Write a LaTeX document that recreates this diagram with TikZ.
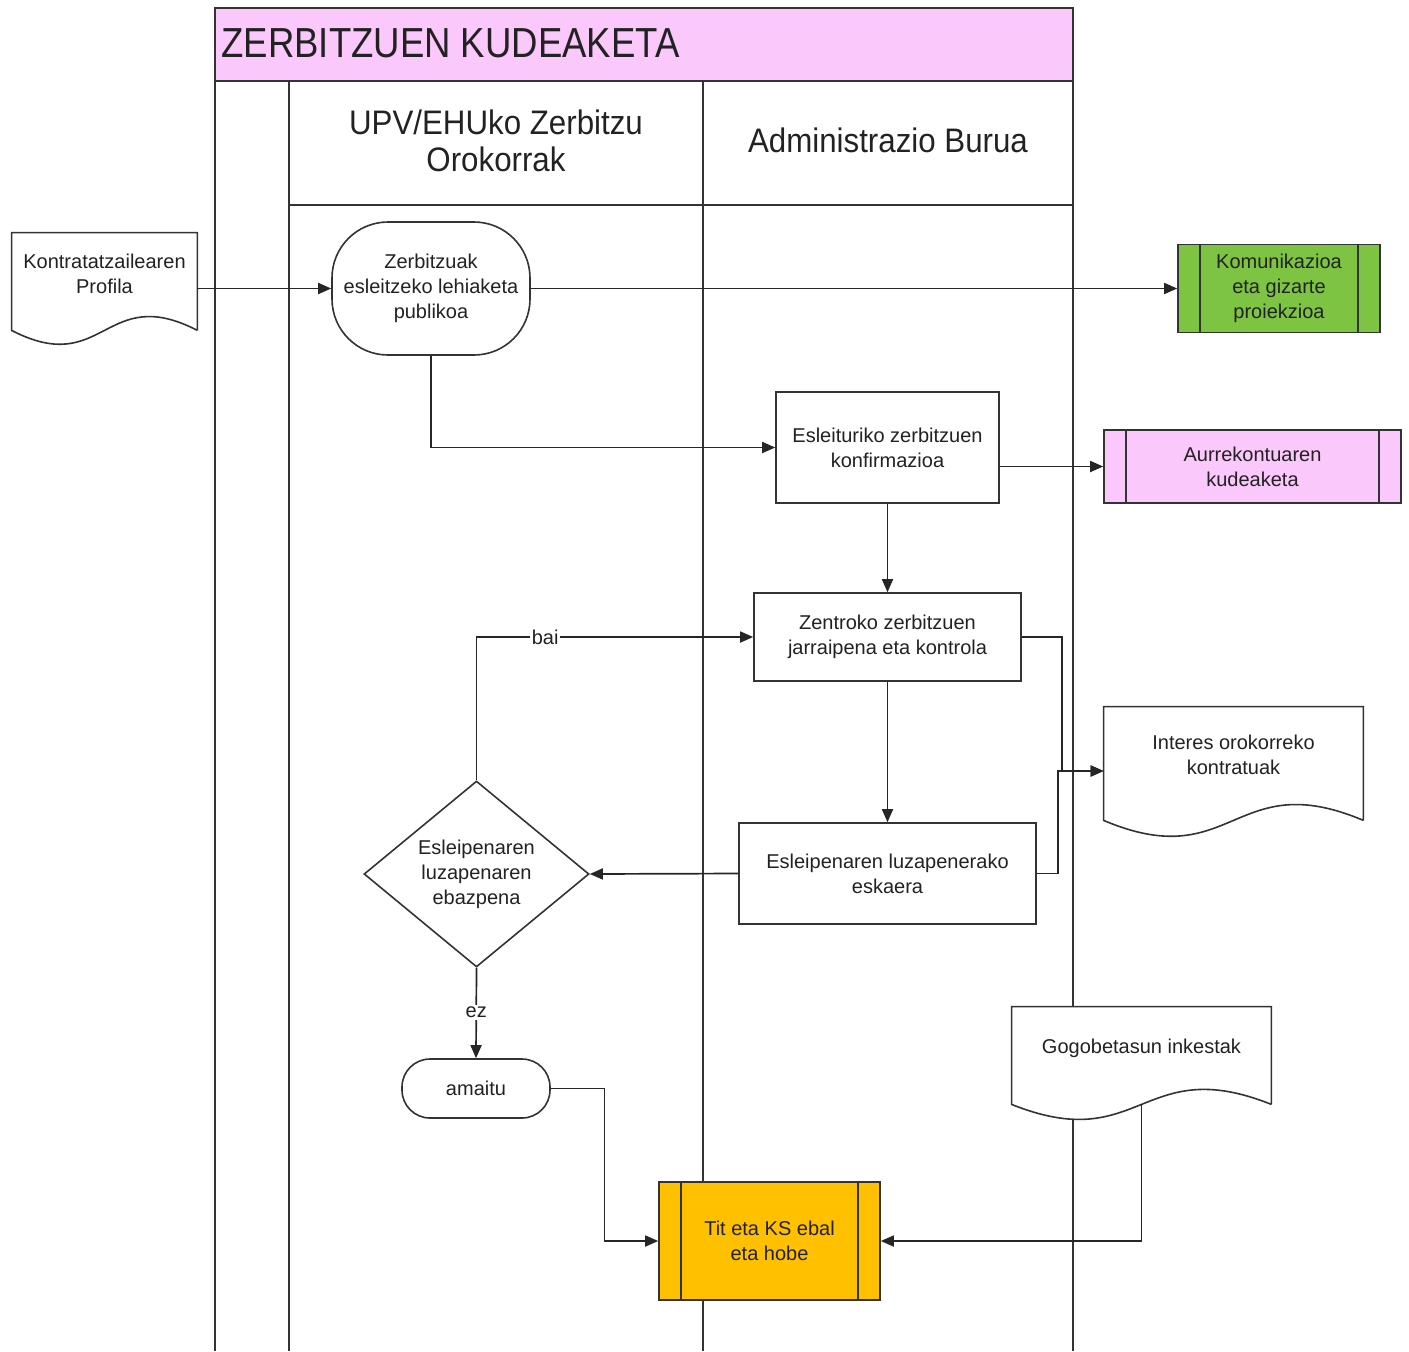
\documentclass[tikz,border=0pt]{standalone}
\usepackage{fontspec}
\setmainfont{Liberation Sans}
\newfontfamily\headfont[FakeStretch=0.92]{Liberation Sans}
\newfontfamily\titlefont[FakeStretch=0.87]{Liberation Sans}
\usetikzlibrary{shapes.geometric,arrows.meta,calc,backgrounds}
\definecolor{lanepink}{HTML}{FAC8FA}
\definecolor{procgreen}{HTML}{7DC443}
\definecolor{procorange}{HTML}{FFC000}
\definecolor{ink}{HTML}{222222}
\newcommand\docwave[2]{%
  \begin{scope}[on background layer]
    \draw[boxline, fill=white] (#1.south east) -- (#1.north east) -- (#1.north west) -- (#1.south west)
      .. controls ($(#1.south)+(0,#2)$) and ($(#1.south)+(0,-#2)$) .. (#1.south east);
  \end{scope}}
\begin{document}
\begin{tikzpicture}[x=0.5pt,y=-0.5pt,
  font=\fontsize{10pt}{12.5pt}\selectfont, text=ink,
  boxline/.style={draw=black!80, line width=0.8pt},
  proc/.style={rectangle, boxline, fill=white, align=center, inner sep=0pt},
  predef/.style={proc, path picture={\draw[black!80, line width=0.8pt]
      ([xshift=11pt]path picture bounding box.north west) -- ([xshift=11pt]path picture bounding box.south west)
      ([xshift=-11pt]path picture bounding box.north east) -- ([xshift=-11pt]path picture bounding box.south east);}},
  term/.style={proc},
  decis/.style={diamond, boxline, fill=white, align=center, inner sep=0pt, aspect=1.2},
  docnode/.style={rectangle, draw=none, inner sep=0pt},
  conn/.style={draw=black!85, line width=0.85pt, -{Triangle[length=6.5pt,width=5.5pt]}},
  lane/.style={draw=black!80, line width=1.2pt},
  lbl/.style={fill=white, inner sep=1pt}]
\useasboundingbox (0,0) rectangle (1409,1351);

% swimlanes
\begin{scope}[on background layer]
  \fill[lanepink] (215,8) rectangle (1073,81);
  \draw[lane] (215,1351) -- (215,8) -- (1073,8) -- (1073,1351);
  \draw[lane] (215,81) -- (1073,81);
  \draw[lane] (289,81) -- (289,1351);
  \draw[lane] (703,81) -- (703,1351);
  \draw[lane] (289,205) -- (1073,205);
\end{scope}
\node[anchor=base west, inner sep=0pt, font=\titlefont\fontsize{21pt}{24pt}\selectfont] (title) at (221,57) {ZERBITZUEN KUDEAKETA};
\node[align=center, font=\headfont\fontsize{17pt}{18.5pt}\selectfont] (h1) at (496,141) {UPV/EHUko Zerbitzu\\Orokorrak};
\node[align=center, font=\headfont\fontsize{17pt}{18.5pt}\selectfont] (h2) at (888,140) {Administrazio Burua};

% nodes
\node[docnode, minimum width=92.5pt, minimum height=48.5pt,
  label={[align=center, yshift=3.75pt]center:Kontratatzailearen\\Profila}] (prof) at (104.5,281.5) {};
\docwave{prof}{48}
\node[term, rounded corners=28pt, minimum width=99pt, minimum height=66.5pt] (zerb) at (431,288.5) {Zerbitzuak\\esleitzeko lehiaketa\\publikoa};
\node[predef, fill=procgreen, minimum width=101pt, minimum height=44pt] (komu) at (1279,288.5) {Komunikazioa\\eta gizarte\\proiekzioa};
\node[proc, minimum width=111.5pt, minimum height=55.5pt] (esle) at (887.5,447.5) {Esleituriko zerbitzuen\\konfirmazioa};
\node[predef, fill=lanepink, minimum width=148.5pt, minimum height=36.5pt] (aurre) at (1252.5,466.5) {Aurrekontuaren\\kudeaketa};
\node[proc, minimum width=133.5pt, minimum height=44pt] (zent) at (887.5,637) {Zentroko zerbitzuen\\jarraipena eta kontrola};
\node[docnode, minimum width=129.5pt, minimum height=56.5pt,
  label={[align=center, yshift=4.5pt]center:Interes orokorreko\\kontratuak}] (inter) at (1233.5,763.5) {};
\docwave{inter}{55}
\node[proc, minimum width=148.5pt, minimum height=50.5pt] (luza) at (887.5,873.5) {Esleipenaren luzapenerako\\eskaera};
\node[decis, minimum width=112.5pt, minimum height=93pt] (diam) at (476.5,874) {Esleipenaren\\luzapenaren\\ebazpena};
\node[term, rounded corners=14pt, minimum width=74pt, minimum height=29.5pt] (amaitu) at (476,1088.5) {amaitu};
\node[docnode, minimum width=129.5pt, minimum height=48.5pt,
  label={[align=center, yshift=3.75pt]center:Gogobetasun inkestak}] (gogo) at (1141.5,1055.5) {};
\docwave{gogo}{52}
\node[predef, fill=procorange, minimum width=110.5pt, minimum height=59pt] (tit) at (769.5,1241) {Tit eta KS ebal\\eta hobe};

% connectors
\draw[conn] (prof.east |- zerb.west) -- (zerb.west);
\draw[conn] (zerb.east) -- (komu.west);
\draw[conn] (zerb.south) |- (esle.west);
\draw[conn] (esle.east |- aurre.west) -- (aurre.west);
\draw[conn] (esle.south) -- (zent.north);
\draw[conn] (zent.south) -- (luza.north);
\draw[conn] (luza.west) -- (diam.east);
\draw[conn] (diam.north) |- node[lbl, pos=0.624] {bai} (zent.west);
\draw[conn] (diam.south) -- node[lbl, pos=0.49] {ez} (amaitu.north);
\coordinate (amaitumid) at ($(amaitu.east)!0.5!(tit.west)$);
\draw[conn] (amaitu.east) -| (amaitumid) |- (tit.west);
\draw[conn] (gogo.south) |- (tit.east);
\coordinate (intin) at ([yshift=-3.75pt]inter.west);
\draw[conn] (zent.east) -- ++(40,0) |- (intin);
\draw[conn] (luza.east) -- ++(21,0) |- (intin);
\end{tikzpicture}
\end{document}
